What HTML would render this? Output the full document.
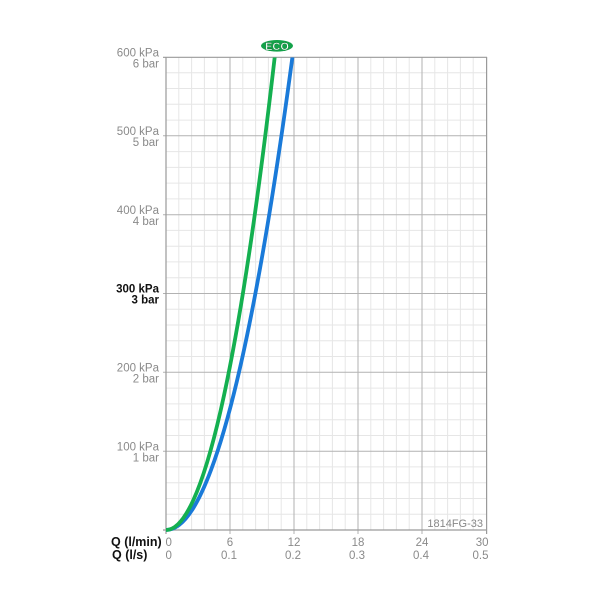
<!DOCTYPE html>
<html>
<head>
<meta charset="utf-8">
<style>
html,body{margin:0;padding:0;background:#fff;}
svg{display:block;}
text{font-family:"Liberation Sans",Arial,sans-serif;}
.ax{font-size:11.5px;fill:#8a8a8a;}
.axb{font-size:11.5px;fill:#111;font-weight:bold;}
.q{font-size:12.5px;fill:#111;font-weight:bold;}
</style>
</head>
<body>
<svg width="600" height="600" viewBox="0 0 600 600" xmlns="http://www.w3.org/2000/svg">
<rect width="600" height="600" fill="#fff"/>
<!-- minor grid -->
<g stroke="#e6e6e6" stroke-width="1">
<line x1="178.8" y1="57" x2="178.8" y2="530"/><line x1="191.6" y1="57" x2="191.6" y2="530"/><line x1="204.4" y1="57" x2="204.4" y2="530"/><line x1="217.2" y1="57" x2="217.2" y2="530"/>
<line x1="242.8" y1="57" x2="242.8" y2="530"/><line x1="255.6" y1="57" x2="255.6" y2="530"/><line x1="268.4" y1="57" x2="268.4" y2="530"/><line x1="281.2" y1="57" x2="281.2" y2="530"/>
<line x1="306.8" y1="57" x2="306.8" y2="530"/><line x1="319.6" y1="57" x2="319.6" y2="530"/><line x1="332.4" y1="57" x2="332.4" y2="530"/><line x1="345.2" y1="57" x2="345.2" y2="530"/>
<line x1="370.8" y1="57" x2="370.8" y2="530"/><line x1="383.6" y1="57" x2="383.6" y2="530"/><line x1="396.4" y1="57" x2="396.4" y2="530"/><line x1="409.2" y1="57" x2="409.2" y2="530"/>
<line x1="434.8" y1="57" x2="434.8" y2="530"/><line x1="447.6" y1="57" x2="447.6" y2="530"/><line x1="460.4" y1="57" x2="460.4" y2="530"/><line x1="473.2" y1="57" x2="473.2" y2="530"/>
<line x1="166" y1="514.2" x2="486" y2="514.2"/><line x1="166" y1="498.5" x2="486" y2="498.5"/><line x1="166" y1="482.7" x2="486" y2="482.7"/><line x1="166" y1="466.9" x2="486" y2="466.9"/>
<line x1="166" y1="435.5" x2="486" y2="435.5"/><line x1="166" y1="419.7" x2="486" y2="419.7"/><line x1="166" y1="403.9" x2="486" y2="403.9"/><line x1="166" y1="388.1" x2="486" y2="388.1"/>
<line x1="166" y1="356.5" x2="486" y2="356.5"/><line x1="166" y1="340.8" x2="486" y2="340.8"/><line x1="166" y1="325.0" x2="486" y2="325.0"/><line x1="166" y1="309.2" x2="486" y2="309.2"/>
<line x1="166" y1="277.7" x2="486" y2="277.7"/><line x1="166" y1="261.9" x2="486" y2="261.9"/><line x1="166" y1="246.2" x2="486" y2="246.2"/><line x1="166" y1="230.4" x2="486" y2="230.4"/>
<line x1="166" y1="198.9" x2="486" y2="198.9"/><line x1="166" y1="183.1" x2="486" y2="183.1"/><line x1="166" y1="167.4" x2="486" y2="167.4"/><line x1="166" y1="151.6" x2="486" y2="151.6"/>
<line x1="166" y1="120.1" x2="486" y2="120.1"/><line x1="166" y1="104.3" x2="486" y2="104.3"/><line x1="166" y1="88.5" x2="486" y2="88.5"/><line x1="166" y1="72.8" x2="486" y2="72.8"/>
</g>
<!-- major grid -->
<g stroke="#b2b2b2" stroke-width="1">
<line x1="230" y1="57" x2="230" y2="534"/><line x1="294" y1="57" x2="294" y2="534"/><line x1="358" y1="57" x2="358" y2="534"/><line x1="422" y1="57" x2="422" y2="534"/>
<line x1="163" y1="451.2" x2="486" y2="451.2"/><line x1="163" y1="372.3" x2="486" y2="372.3"/><line x1="163" y1="293.5" x2="486" y2="293.5"/><line x1="163" y1="214.7" x2="486" y2="214.7"/><line x1="163" y1="135.8" x2="486" y2="135.8"/>
</g>
<!-- border -->
<g stroke="#9a9a9a" stroke-width="1.2" fill="none">
<line x1="163" y1="57.3" x2="487" y2="57.3"/>
<line x1="166" y1="57" x2="166" y2="534"/>
<line x1="486.6" y1="57" x2="486.6" y2="534"/>
<line x1="163" y1="530" x2="487" y2="530"/>
</g>
<clipPath id="c"><rect x="160" y="57.5" width="330" height="480"/></clipPath>
<g clip-path="url(#c)" fill="none" stroke-width="3.8" stroke-linecap="butt">
<path stroke="#1a7ad9" d="M166,530 C186,530 201.5,495.3 211,470 Q252.05,360.7 293.1,52"/>
<path stroke="#14b050" d="M166,530 Q220.65,530 275.3,52"/>
</g>
<!-- ECO badge -->
<ellipse cx="277" cy="45.8" rx="16" ry="5.8" fill="#14a24a"/>
<text x="277" y="49.8" text-anchor="middle" font-size="11" font-weight="bold" fill="#fff" stroke="#0d7a35" stroke-width="0.4">ECO</text>
<!-- y labels -->
<g class="ax" text-anchor="end">
<text x="159" y="56.5">600 kPa</text><text x="159" y="67.5">6 bar</text>
<text x="159" y="135">500 kPa</text><text x="159" y="146">5 bar</text>
<text x="159" y="214">400 kPa</text><text x="159" y="225">4 bar</text>
<text x="159" y="371.5">200 kPa</text><text x="159" y="382.5">2 bar</text>
<text x="159" y="450.5">100 kPa</text><text x="159" y="461.5">1 bar</text>
</g>
<g class="axb" text-anchor="end">
<text x="159" y="292.5">300 kPa</text><text x="159" y="303.5">3 bar</text>
</g>
<!-- x labels -->
<text class="q" x="111" y="546">Q (l/min)</text>
<text class="q" x="112" y="559">Q (l/s)</text>
<g class="ax">
<text x="165.5" y="546">0</text><text x="165.5" y="559">0</text>
<text x="230" y="546" text-anchor="middle">6</text><text x="229" y="559" text-anchor="middle">0.1</text>
<text x="294" y="546" text-anchor="middle">12</text><text x="293" y="559" text-anchor="middle">0.2</text>
<text x="358" y="546" text-anchor="middle">18</text><text x="357" y="559" text-anchor="middle">0.3</text>
<text x="422" y="546" text-anchor="middle">24</text><text x="421" y="559" text-anchor="middle">0.4</text>
<text x="488.5" y="546" text-anchor="end">30</text><text x="488.5" y="559" text-anchor="end">0.5</text>
</g>
<text x="483" y="527" text-anchor="end" font-size="11" fill="#888">1814FG-33</text>
</svg>
</body>
</html>
